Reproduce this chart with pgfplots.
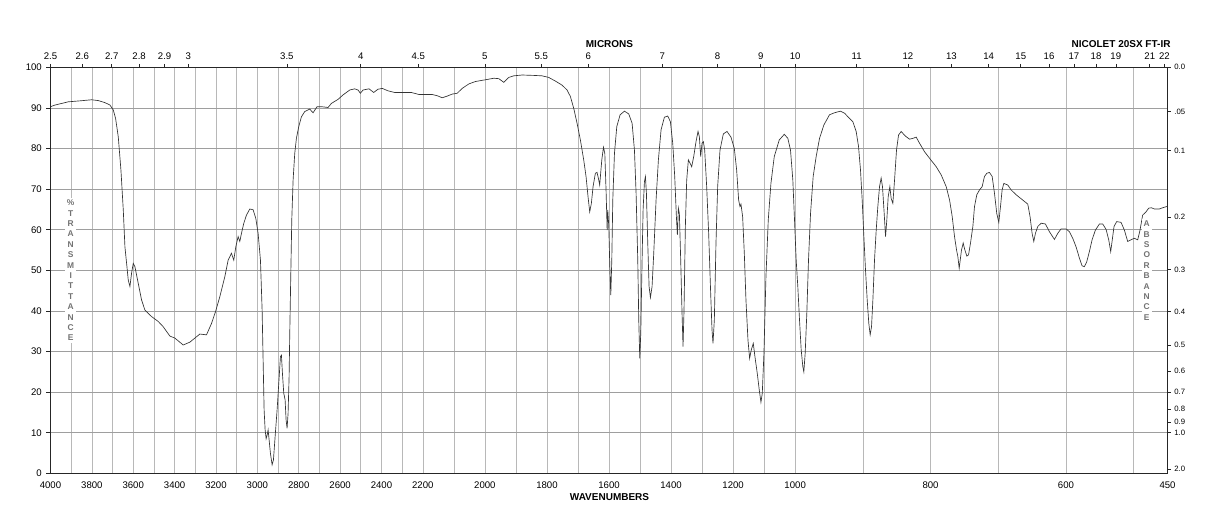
\documentclass[border=0pt]{standalone}
\usepackage{fontspec}
\setmainfont{Liberation Sans}
\usepackage{pgfplots}
\pgfplotsset{compat=1.18}
\usepackage{pgfplotstable}

\pgfplotstableread{
w T
4000 90.3
3978.3 90.7
3946.1 91.1
3913.9 91.5
3865.6 91.7
3801.2 92.0
3769.0 91.8
3736.8 91.3
3712.6 90.7
3696.5 89.5
3685.3 87.4
3672.4 82.9
3659.5 74.7
3648.2 64.9
3640.2 55.8
3630.5 50.9
3624.1 47.6
3616.0 46.0
3608.0 49.3
3600.0 51.7
3591.9 50.9
3575.8 46.8
3559.7 42.7
3543.6 40.2
3511.4 38.6
3479.2 37.4
3455.1 36.1
3422.9 33.8
3398.7 33.3
3358.5 31.6
3326.3 32.3
3302.1 33.3
3278.0 34.3
3245.8 34.1
3221.6 36.9
3202.3 39.8
3181.4 43.5
3157.3 48.4
3141.2 52.5
3125.1 54.2
3114.0 52.5
3104.1 55.8
3092.9 58.3
3084.8 57.1
3076.8 59.1
3065.5 61.6
3052.6 63.6
3036.5 65.1
3020.4 64.9
3007.5 62.8
2996.3 59.1
2985.0 52.5
2976.9 40.2
2972.1 27.9
2967.3 15.6
2962.4 10.7
2957.6 8.5
2952.8 9.4
2947.9 10.7
2943.1 8.2
2936.7 4.9
2928.6 2.1
2922.2 3.3
2914.1 9.0
2904.5 15.6
2896.4 22.2
2888.4 28.7
2883.6 29.1
2878.7 24.6
2872.3 19.7
2865.8 18.1
2861.0 13.1
2856.2 11.1
2851.4 14.8
2846.5 23.8
2843.3 34.5
2838.5 48.4
2833.6 62.4
2827.2 72.2
2819.2 78.8
2811.1 82.5
2799.8 85.4
2786.9 87.8
2770.9 89.1
2746.7 89.7
2730.6 88.8
2711.3 90.3
2690.4 90.3
2658.2 90.1
2642.1 91.1
2609.9 92.1
2585.7 93.2
2553.5 94.4
2529.4 94.7
2513.2 94.4
2502.0 93.6
2489.1 94.4
2460.1 94.7
2437.6 93.8
2416.7 94.6
2395.7 94.8
2368.4 94.2
2336.2 93.8
2295.9 93.8
2255.7 93.8
2218.6 93.3
2200.0 93.3
2169.8 93.3
2153.7 93.0
2137.6 92.5
2121.5 92.9
2105.4 93.4
2089.3 93.6
2073.2 94.8
2051.8 95.9
2030.3 96.5
2000.3 96.9
1971.3 97.3
1955.2 97.2
1939.1 96.3
1923.0 97.5
1906.9 97.9
1880.0 98.1
1842.5 98.0
1815.7 97.9
1794.2 97.5
1772.7 96.6
1751.2 95.6
1735.1 94.4
1724.4 92.8
1713.7 89.9
1702.9 86.2
1692.2 82.1
1681.5 77.2
1674.0 73.1
1667.5 68.1
1662.2 64.4
1656.8 66.5
1651.4 70.6
1643.9 73.9
1638.5 74.1
1633.2 72.3
1630.0 71.0
1623.2 77.2
1617.8 80.3
1613.5 78.8
1609.2 69.0
1606.0 59.9
1603.9 64.9
1600.7 60.8
1597.4 50.9
1594.2 43.9
1591.0 52.5
1587.8 67.3
1582.4 78.8
1574.9 85.4
1564.2 88.3
1550.2 89.2
1536.3 88.5
1525.5 86.2
1518.0 79.6
1512.7 69.0
1507.3 52.5
1504.1 37.8
1500.9 28.3
1497.6 34.5
1493.4 52.5
1490.1 64.9
1485.8 71.8
1482.6 73.1
1479.4 69.0
1475.1 56.7
1470.8 46.0
1466.5 43.3
1461.2 46.0
1455.8 54.2
1448.3 67.3
1440.8 77.2
1432.2 84.6
1421.5 87.7
1410.7 88.0
1402.1 86.6
1394.6 81.3
1388.2 73.1
1382.8 63.2
1379.6 58.7
1376.4 65.3
1373.2 64.0
1368.9 52.5
1364.6 39.4
1361.4 31.2
1358.2 40.2
1353.9 60.8
1349.6 72.2
1344.2 77.2
1338.8 76.4
1333.5 75.5
1327.0 78.0
1319.5 81.7
1313.1 84.2
1308.8 82.9
1304.5 78.0
1300.2 81.3
1295.9 81.7
1291.6 79.6
1285.2 70.6
1278.8 59.1
1272.3 44.3
1268.0 35.3
1264.8 32.0
1260.5 37.8
1255.2 56.7
1249.8 70.6
1242.3 79.6
1231.5 83.6
1219.7 84.2
1206.9 82.8
1196.1 80.0
1188.6 74.7
1182.2 67.3
1177.9 65.7
1174.7 66.3
1169.3 63.2
1163.9 54.2
1158.6 42.7
1152.1 32.8
1146.8 28.3
1141.4 30.4
1135.0 32.0
1129.6 28.7
1122.1 24.6
1115.7 20.5
1110.3 17.5
1106.0 19.7
1100.6 29.6
1094.2 48.4
1086.7 62.4
1078.1 71.4
1067.4 78.0
1051.3 82.1
1035.0 83.5
1023.6 82.5
1015.0 79.6
1007.5 72.2
1002.1 62.4
998.5 52.5
996.1 46.0
993.6 37.8
991.1 30.4
988.7 26.3
987.2 25.0
985.2 29.6
982.8 39.4
980.3 52.5
977.3 64.0
973.4 73.1
969.0 78.0
964.0 82.5
957.6 85.8
949.3 88.3
941.9 88.8
933.0 89.2
927.1 88.7
919.7 87.4
914.8 86.6
909.9 84.2
906.4 80.5
903.5 74.7
901.0 67.3
898.5 58.3
896.1 50.1
893.6 42.7
891.2 36.9
889.2 34.1
887.2 36.1
885.2 42.7
882.8 52.5
880.3 59.9
877.9 65.7
875.4 70.6
873.0 72.7
871.0 70.6
868.5 64.0
866.5 58.3
864.6 62.4
862.6 68.1
860.1 70.6
858.2 67.7
855.7 66.5
853.2 72.2
850.3 79.6
847.3 83.3
843.4 84.2
837.5 83.1
831.1 82.3
826.1 82.5
821.2 82.8
816.3 81.3
808.9 79.2
801.5 77.6
791.6 75.5
784.3 73.5
776.9 70.6
771.9 67.3
768.0 63.2
764.6 58.3
761.6 55.0
759.7 53.4
757.7 50.5
756.2 52.5
754.3 55.0
751.8 56.7
749.3 55.0
746.4 53.5
743.9 53.8
741.0 56.7
737.5 60.8
735.1 65.7
731.7 68.6
727.7 69.8
723.8 70.6
720.4 73.1
716.9 73.9
713.0 74.1
709.0 73.1
705.6 69.0
702.2 64.0
699.2 61.8
696.7 65.7
694.3 69.8
691.8 71.4
685.9 71.0
681.0 69.8
673.6 68.6
663.8 67.3
656.4 66.3
653.0 63.2
650.0 59.1
647.5 57.1
645.1 59.1
641.6 60.8
636.7 61.6
630.3 61.4
624.4 59.5
617.0 57.6
612.1 59.1
607.2 60.2
599.8 60.2
594.9 59.5
590.0 57.9
585.1 55.8
580.1 53.0
576.2 51.1
572.8 50.9
569.3 52.1
565.4 54.6
561.4 57.5
556.5 59.9
550.6 61.4
545.7 61.4
540.8 60.1
536.8 57.5
533.9 54.6
531.9 57.1
529.0 60.8
525.0 62.0
518.6 61.8
513.7 59.9
508.8 57.1
503.9 57.5
499.0 57.9
494.0 57.5
490.6 59.9
486.7 63.6
481.7 64.4
477.8 65.3
473.9 65.4
469.4 65.1
462.1 65.1
457.2 65.4
451.2 65.7
450.0 65.7
}\spectrum

\pgfplotsset{
  irx/.style={
    x coord trafo/.code={\pgfmathparse{(##1>=2200)?((4000-##1)/1800):((##1>=1000)?(1+(2200-##1)/1200):(2+(1000-##1)/550))}},
    xmin=4000, xmax=450, ymin=0, ymax=100,
    at={(0,0)}, anchor=south west,
    scale only axis, width=837.75pt, height=304.5pt,
  },
}

\begin{document}
\begin{tikzpicture}
\path[use as bounding box] (-37.875pt,-41.025pt) rectangle (875.625pt,354.975pt);
\begin{axis}[irx,
  axis line style={black!85, line width=0.6pt},
  xtick={4000,3800,3600,3400,3200,3000,2800,2600,2400,2200,2000,1800,1600,1400,1200,1000,800,600,450},
  xticklabels={4000,3800,3600,3400,3200,3000,2800,2600,2400,2200,2000,1800,1600,1400,1200,1000,800,600,450},
  minor xtick={3900,3700,3500,3300,3100,2900,2700,2500,2300,2100,1900,1700,1500,1300,1100,900,700,500},
  ytick={0,10,20,30,40,50,60,70,80,90,100},
  yticklabels={0,10,20,30,40,50,60,70,80,90,100},
  grid=both,
  x grid style={black!28, line width=0.45pt},
  y grid style={black!38, line width=0.45pt},
  minor x grid style={black!28, line width=0.45pt},
  tick align=outside,
  xtick pos=left, ytick pos=left,
  major tick length=3pt, minor tick length=0pt,
  x tick style={draw=none},
  y tick style={black!85, line width=0.5pt},
  tick label style={font=\fontsize{7.2}{8}\selectfont},
]
\addplot[black!80, line width=0.5pt] table[x=w, y=T] {\spectrum};
\end{axis}
\begin{axis}[irx,
  axis x line*=top, axis y line*=right,
  axis line style={black!85, line width=0.6pt},
  xtick={4000,3846.15,3703.70,3571.43,3448.28,3333.33,2857.14,2500,2222.22,2000,1818.18,1666.67,1428.57,1250,1111.11,1000,909.09,833.33,769.23,714.29,666.67,625,588.24,555.56,526.32,476.19,454.55},
  xticklabels={2.5,2.6,2.7,2.8,2.9,3,3.5,4,4.5,5,5.5,6,7,8,9,10,11,12,13,14,15,16,17,18,19,21,22},
  ytick={1,10,12.589,15.849,19.953,25.119,31.623,39.811,50.119,63.096,79.433,89.125,100},
  yticklabels={2.0,1.0,0.9,0.8,0.7,0.6,0.5,0.4,0.3,0.2,0.1,.05,0.0},
  tick align=outside,
  major tick length=2.6pt,
  tick style={black!85, line width=0.5pt},
  xticklabel style={font=\fontsize{7.2}{8}\selectfont},
  yticklabel style={font=\fontsize{5.8}{7}\selectfont, xshift=-1pt},
]
\end{axis}
\node[font=\bfseries\fontsize{7.5}{8}\selectfont] at (419.25pt,321.75pt) {MICRONS};
\node[font=\bfseries\fontsize{7.5}{8}\selectfont] at (802.9pt,322pt) {NICOLET 20SX FT-IR};
\node[font=\bfseries\fontsize{7.5}{8}\selectfont] at (419.25pt,-17.55pt) {WAVENUMBERS};
\node[fill=white, inner sep=1.5pt, text=black!55, font=\bfseries\fontsize{6.3}{7.8}\selectfont, align=center] at (15.15pt,152.2pt) {\%\\T\\R\\A\\N\\S\\M\\I\\T\\T\\A\\N\\C\\E};
\node[fill=white, inner sep=1.5pt, text=black!55, font=\bfseries\fontsize{6.3}{7.8}\selectfont, align=center] at (822.2pt,152pt) {A\\B\\S\\O\\R\\B\\A\\N\\C\\E};
\end{tikzpicture}
\end{document}
